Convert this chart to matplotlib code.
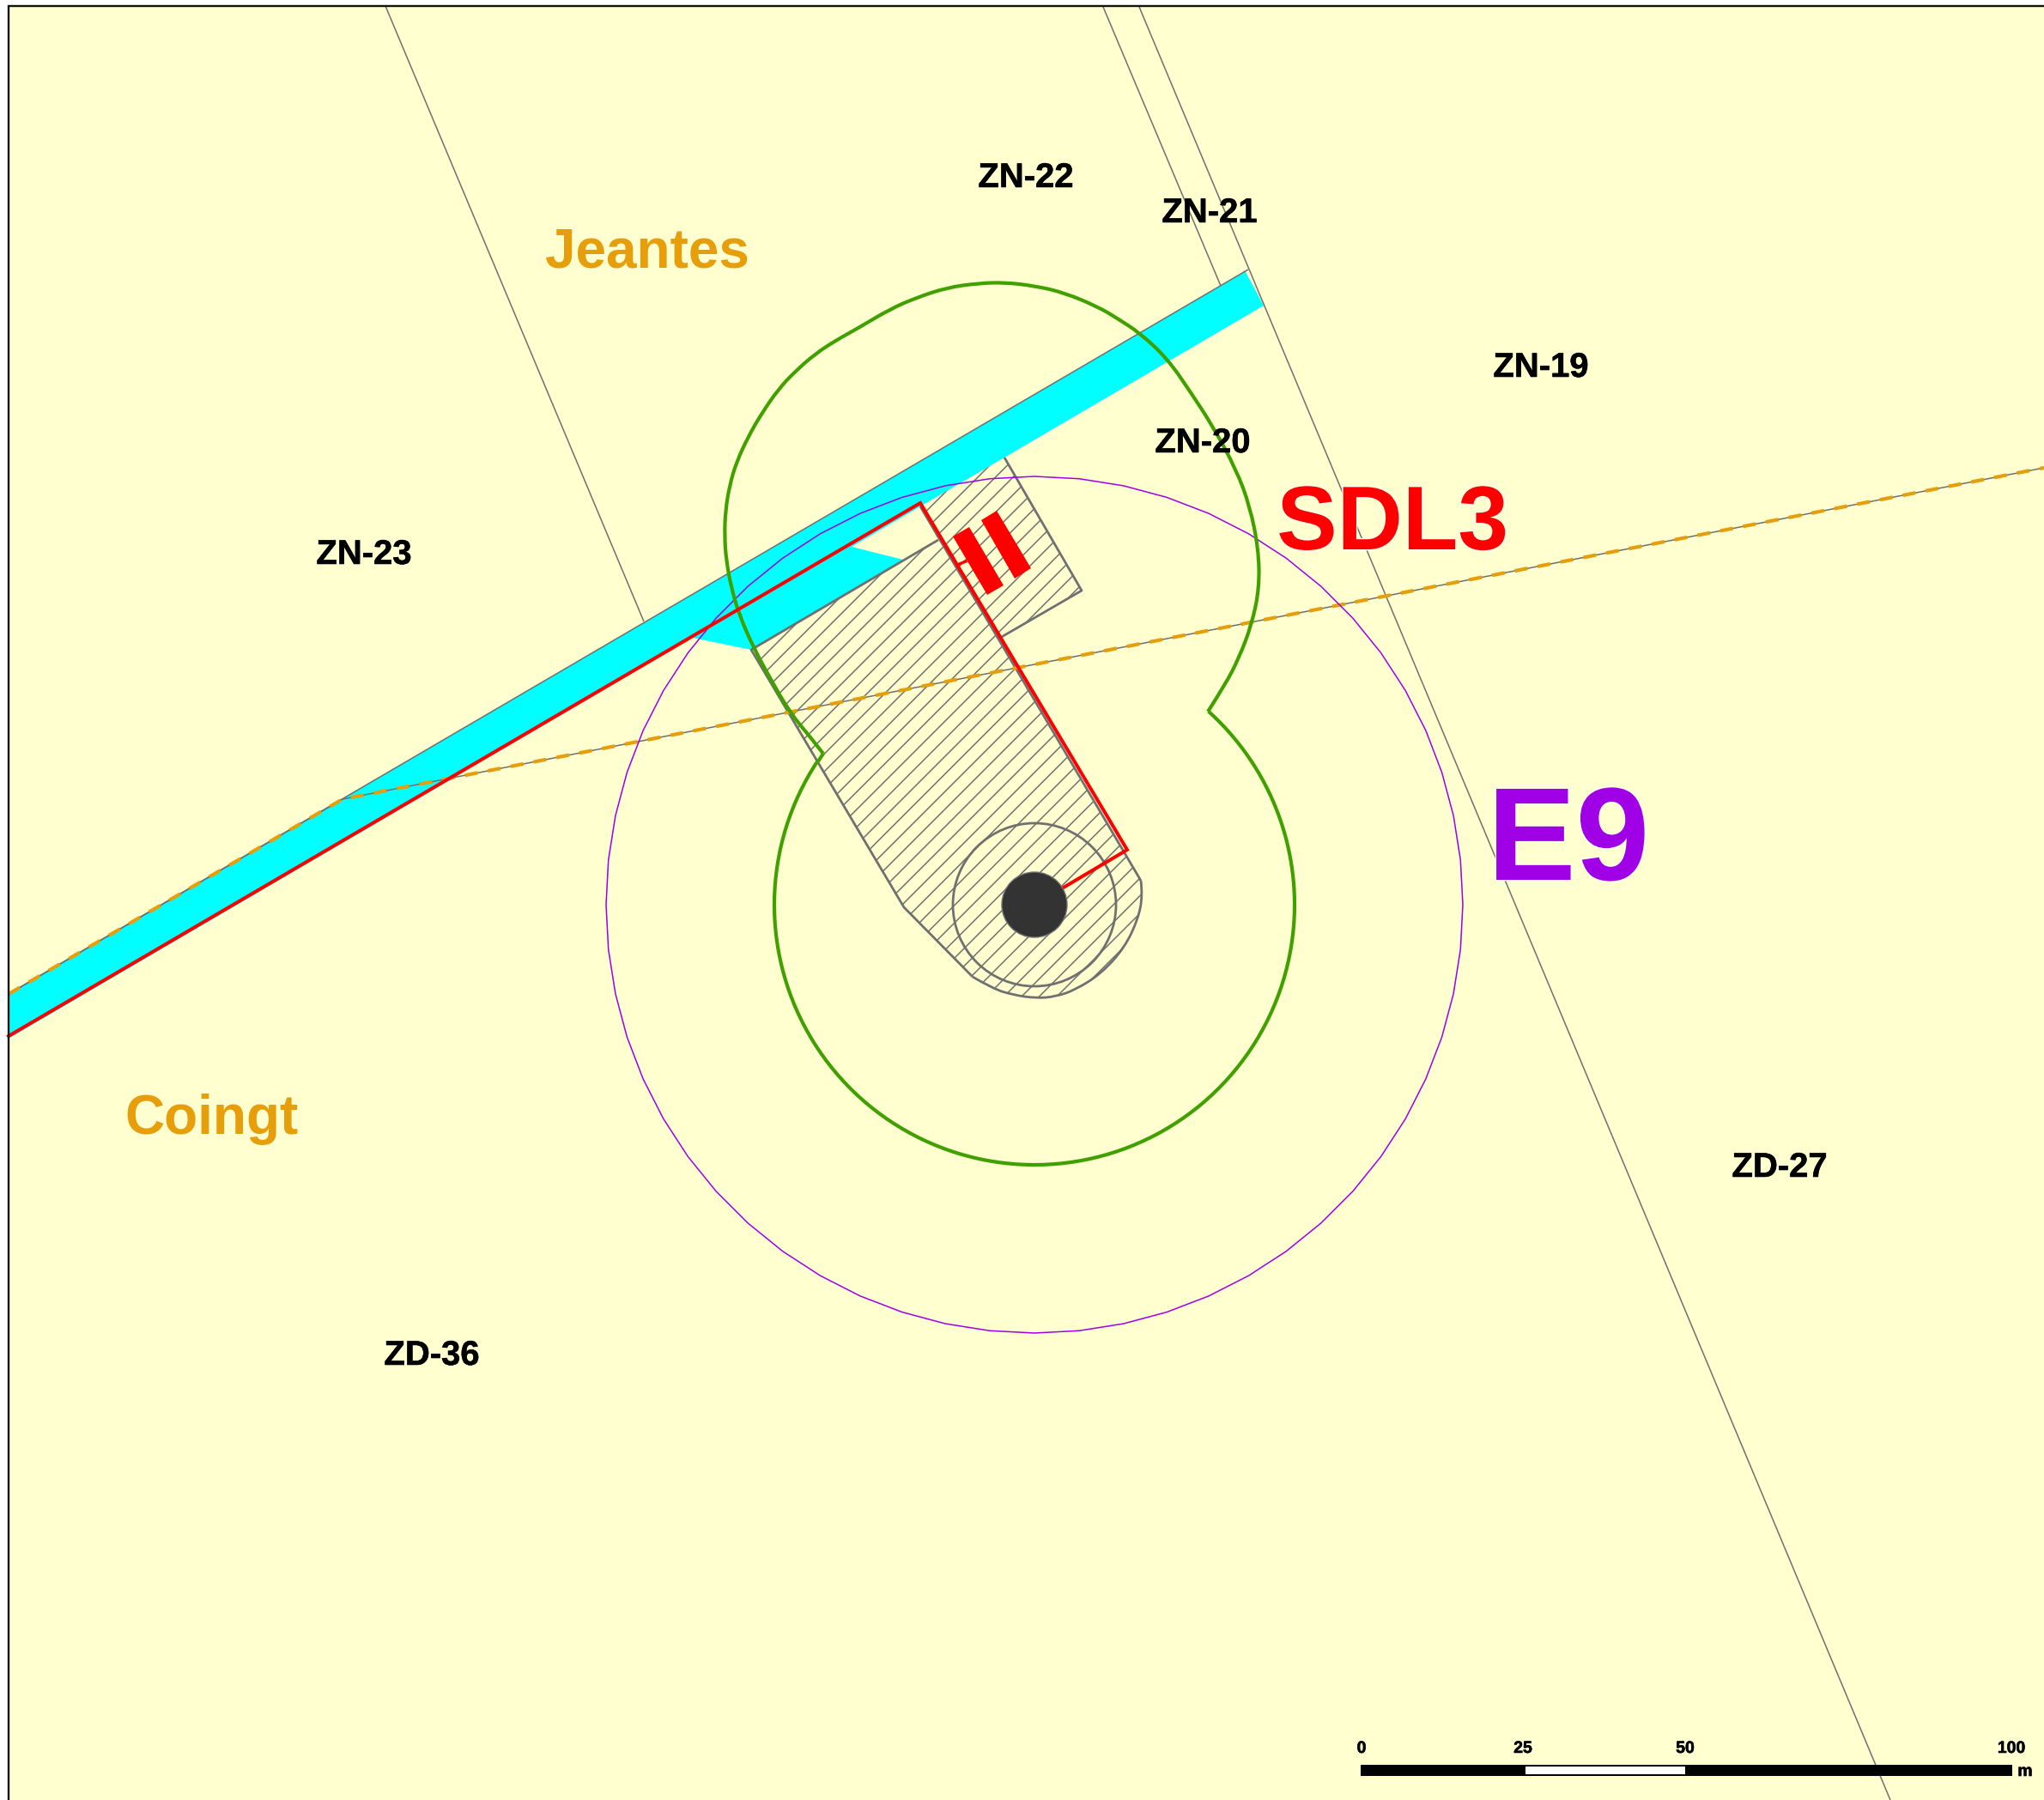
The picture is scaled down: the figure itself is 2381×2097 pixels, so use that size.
import matplotlib
matplotlib.use('Agg')
import matplotlib.pyplot as plt
import matplotlib.patheffects as pe
from matplotlib.path import Path
from matplotlib.collections import LineCollection
from matplotlib.patches import Polygon, Circle, Arc, RegularPolygon, Rectangle, PathPatch

plt.rcParams['font.family'] = ['Liberation Sans', 'DejaVu Sans']

# map coordinates (pixels, y down)
turbine = (1205, 1054)
road_edge_top = [(10, 1158), (1454, 314)]
road_fill = [(10, 1158), (1454, 314), (1451, 317), (1472, 356), (1170, 533), (1072, 590),
             (992, 637), (1052, 652), (875, 757), (807, 743), (10, 1210)]
parcel_lines = [[(449, 7), (750, 724)], [(1285, 8), (1422, 333)], [(1327, 8), (2202, 2097)]]
commune_line = [(10, 1158), (399, 931), (2381, 545)]
access_red = [(10, 1207), (1072, 586), (1313, 990), (1205, 1054)]
red_tick = [(1115, 658), (1125, 654)]
bar1 = [(1110, 625), (1129, 614), (1169, 682), (1150, 693)]
bar2 = [(1143, 606), (1161, 595), (1201, 662), (1182, 674)]
hatched = [(875, 757), (1093, 629), (1072, 590), (1170, 533), (1260, 688), (1165, 743), (1329, 1026),
           (1330, 1043), (1325, 1070), (1310, 1103), (1283, 1133), (1253, 1152), (1230, 1160), (1207, 1162),
           (1180, 1159), (1157, 1152), (1133, 1138), (1053, 1057)]
hatched_edge_left = [(1093, 629), (875, 757), (1053, 1057), (1133, 1138)]
hatched_edge_round = [(1133, 1138), (1157, 1152), (1180, 1159), (1207, 1163), (1230, 1161), (1253, 1153),
                      (1283, 1134), (1310, 1104), (1326, 1070), (1331, 1043), (1329, 1026)]
hatched_edge_right = [(1329, 1026), (1072, 590)]
hatched_edge_top = [(1170, 533), (1260, 688), (1165, 743)]
hatch_step = 20.5
green_notch = [(953, 887), (959, 878)]
green_upper = [(959, 878), (945, 860), (920, 830), (897, 790), (878, 755), (861, 716), (852, 685),
               (846, 653), (844, 625), (845, 595), (850, 565), (858, 538), (872, 508), (887, 482),
               (907, 453), (927, 432), (950, 412), (973, 397), (1000, 382), (1037, 360), (1067, 347),
               (1103, 335), (1140, 330), (1170, 329), (1205, 333), (1240, 341), (1280, 358), (1300, 370),
               (1328, 388), (1360, 418), (1387, 457), (1413, 497), (1440, 547), (1456, 590), (1466, 640),
               (1467, 685), (1458, 728), (1443, 767), (1427, 798), (1407, 829)]
green_radius = 303
green_theta = (-48, 213.5)
purple_radius = 499
inner_radius = 95
mast_radius = 38

parcels = ['ZN-22', 'ZN-21', 'ZN-19', 'ZN-20', 'ZN-23', 'ZD-27', 'ZD-36']
parcel_x = [1195, 1409, 1795, 1401, 424, 2073, 503]
parcel_y = [218, 259, 439, 527, 657, 1371, 1590]
communes = ['Jeantes', 'Coingt']
commune_x = [754, 247]
commune_y = [311, 1321]

scale_ticks = [1585, 1776, 1964, 2344]
scale_labels = ['0', '25', '50', '100']
scale_label_x = [1586, 1774, 1963, 2343]

YELLOW = '#FFFFD0'
GRAY = '#707070'
RED = '#FF0000'
GREEN = '#3FA000'
PURPLE = '#A000E6'
ORANGE = '#E69F0A'
CYAN = '#00FFFF'

fig = plt.figure(figsize=(23.81, 20.97), dpi=100)
ax = fig.add_axes([0, 0, 1, 1])
ax.set_xlim(0, 2381)
ax.set_ylim(2097, 0)
ax.axis('off')

ax.add_patch(Rectangle((10, 7), 2371, 2090, fc=YELLOW, ec='none', zorder=0))


def line(pts, **kw):
    xs, ys = zip(*pts)
    ax.plot(xs, ys, solid_capstyle='butt', **kw)


def curve(pts, **kw):
    # read points used as control points of a quadratic spline
    verts = [pts[0]]
    codes = [Path.MOVETO]
    for a, b in zip(pts[1:-2], pts[2:-1]):
        verts += [a, ((a[0] + b[0]) / 2, (a[1] + b[1]) / 2)]
        codes += [Path.CURVE3, Path.CURVE3]
    verts += [pts[-2], pts[-1]]
    codes += [Path.CURVE3, Path.CURVE3]
    ax.add_patch(PathPatch(Path(verts, codes), fc='none', **kw))


for p in parcel_lines:
    line(p, color=GRAY, lw=1.1, zorder=1)

ax.add_patch(Polygon(road_fill, closed=True, fc=CYAN, ec='none', zorder=2))
line(road_edge_top, color=GRAY, lw=1.1, zorder=3)

# hatching: parallel lines clipped to the zone, the built-in hatch has no matching spacing
zone = Polygon(hatched, closed=True, fc='none', ec='none', zorder=3)
ax.add_patch(zone)
segs = []
c = 1408.0
while c < 2520:
    segs.append([(c, 0), (0, c)])
    c += hatch_step
hatch_lines = LineCollection(segs, colors=GRAY, linewidths=1.1, zorder=3)
ax.add_collection(hatch_lines)
hatch_lines.set_clip_path(zone)

line(hatched_edge_left, color=GRAY, lw=2.0, zorder=4)
curve(hatched_edge_round, ec=GRAY, lw=2.0, zorder=4)
line(hatched_edge_right, color=GRAY, lw=2.0, zorder=4)
line(hatched_edge_top, color=GRAY, lw=2.0, zorder=4)
ax.add_patch(Circle(turbine, inner_radius, fc='none', ec=GRAY, lw=2.0, zorder=4))

line(commune_line, color=GRAY, lw=1.1, zorder=5)
ax.plot(*zip(*commune_line), color=ORANGE, lw=3.0, linestyle=(0, (3.6, 2.9)), dash_capstyle='butt', zorder=5)

ax.add_patch(RegularPolygon(turbine, 60, radius=purple_radius, fc='none', ec=PURPLE, lw=1.1, zorder=6))

ax.add_patch(Arc(turbine, 2 * green_radius, 2 * green_radius, theta1=green_theta[0], theta2=green_theta[1],
                 ec=GREEN, lw=3.0, zorder=6))
curve(green_upper, ec=GREEN, lw=3.0, zorder=6)
line(green_notch, color=GREEN, lw=3.0, zorder=6)

ax.plot(*zip(*access_red), color=RED, lw=2.9, zorder=7, solid_joinstyle='miter')
ax.plot(*zip(*red_tick), color=RED, lw=2.4, zorder=7)
ax.add_patch(Polygon(bar1, closed=True, fc=RED, ec='none', zorder=7))
ax.add_patch(Polygon(bar2, closed=True, fc=RED, ec='none', zorder=7))

ax.add_patch(Circle(turbine, mast_radius, fc='#333333', ec=GRAY, lw=1.0, zorder=8))

halo = [pe.withStroke(linewidth=2, foreground='#FFFFF0')]
bolder = [pe.withStroke(linewidth=0.4, foreground='black')]
for name, x, y in zip(parcels, parcel_x, parcel_y):
    ax.text(x, y, name, fontsize=28.8, fontweight='bold', color='black', ha='center', va='baseline', zorder=10,
            path_effects=bolder)
for name, x, y in zip(communes, commune_x, commune_y):
    ax.text(x, y, name, fontsize=46, fontweight='bold', color=ORANGE, ha='center', va='baseline', zorder=10)
ax.text(1622, 640, 'SDL3', fontsize=76, fontweight='bold', color=RED, ha='center', va='baseline',
        zorder=10, path_effects=halo)
ax.text(1827, 1025, 'E9', fontsize=111, fontweight='bold', color=PURPLE, ha='center', va='baseline',
        zorder=10, path_effects=halo)

# scale bar
ax.add_patch(Rectangle((scale_ticks[0], 2056), scale_ticks[-1] - scale_ticks[0], 13, fc='black', ec='none', zorder=9))
ax.add_patch(Rectangle((scale_ticks[1] + 1, 2058), scale_ticks[2] - scale_ticks[1] - 2, 9, fc='white', ec='none', zorder=9))
for x, lab in zip(scale_label_x, scale_labels):
    ax.text(x, 2042, lab, fontsize=14, fontweight='bold', ha='center', va='baseline', zorder=10, path_effects=bolder)
ax.text(2359, 2069, 'm', fontsize=14, fontweight='bold', ha='center', va='baseline', zorder=10, path_effects=bolder)

# frame
ax.plot([10, 10, 2381], [2097, 7, 7], color='#111111', lw=1.7, zorder=11, solid_joinstyle='miter')

fig.savefig('out.png', dpi=100, facecolor='white')
